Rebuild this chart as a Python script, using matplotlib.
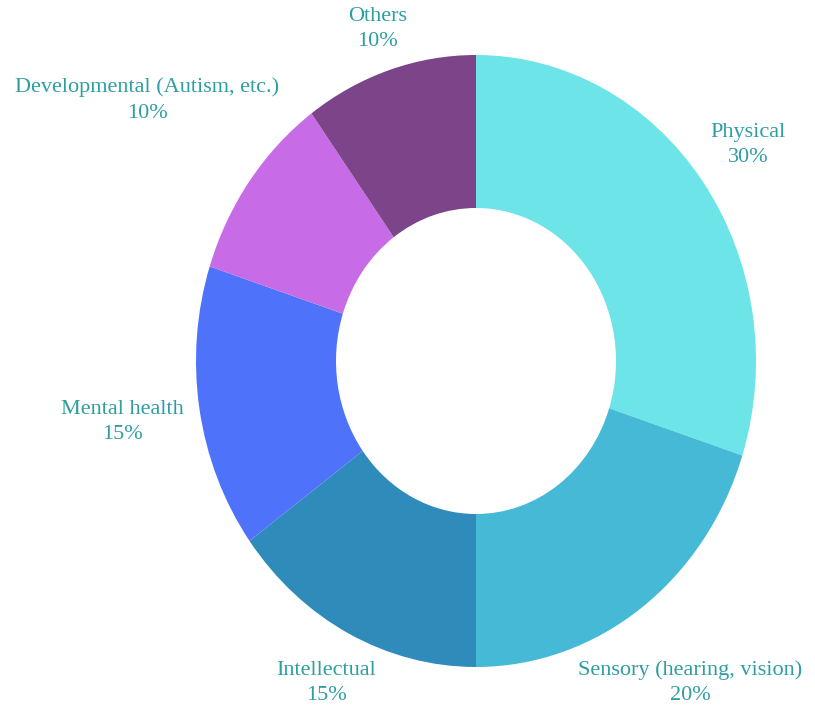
import numpy as np
import matplotlib.pyplot as plt

# Data
categories = ["Physical", "Sensory (hearing, vision)", "Intellectual",
              "Mental health", "Developmental (Autism, etc.)", "Others"]
shares = [30, 20, 15, 15, 10, 10]
colors = ["#6CE4E8", "#45B9D6", "#2E8BBA", "#4F72FB", "#C86BE6", "#7C4589"]

# label distance (in radii) for each wedge
label_dist = [1.20, 1.30, 1.18, 1.28, 1.45, 1.14]

fig = plt.figure(figsize=(8.15, 7.13), dpi=100)
ax = fig.add_axes([0, 0, 1, 1])

wedges, _ = ax.pie(shares, colors=colors, startangle=90, counterclock=False,
                   radius=1.0, wedgeprops=dict(width=0.5, linewidth=0))

for w, cat, s, d in zip(wedges, categories, shares, label_dist):
    ang = np.deg2rad((w.theta1 + w.theta2) / 2)
    ax.text(d * np.cos(ang), d * np.sin(ang), f"{cat}\n{s}%",
            ha="center", va="center", fontsize=16, color="#2E9EA1",
            family="Liberation Serif", linespacing=1.45)

# the donut is drawn slightly squashed horizontally in the original
ax.set_xlim(-476 / 280, (815 - 476) / 280)
ax.set_ylim(-352 / 306, 361 / 306)
ax.set_aspect("auto")
ax.axis("off")

fig.savefig("out.png", dpi=100)
